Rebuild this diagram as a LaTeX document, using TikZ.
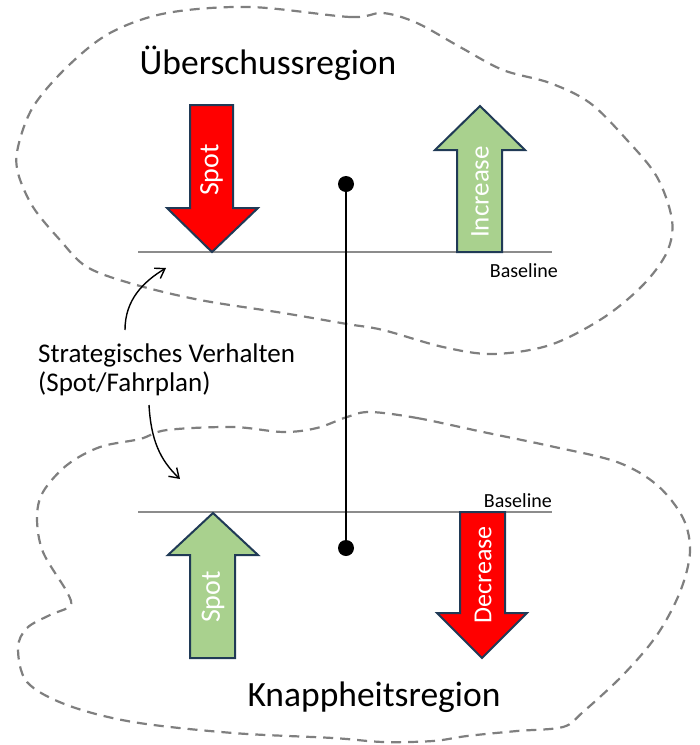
\documentclass[tikz,border=0pt]{standalone}
\usepackage{fontspec}
\setmainfont{Carlito}
\usetikzlibrary{arrows.meta}
\definecolor{blobgray}{HTML}{7F7F7F}
\definecolor{basegray}{HTML}{8C8C8C}
\definecolor{arrowedge}{HTML}{203A56}
\definecolor{upgreen}{HTML}{A9D18E}
\definecolor{downred}{HTML}{FF0000}
\tikzset{
  blob/.style={draw=blobgray, line width=2.2pt, dash pattern=on 10pt off 7pt},
  baseln/.style={draw=basegray, line width=2.5pt},
  fatarrow/.style={draw=arrowedge, line width=2pt, line join=miter},
  arrowlabel/.style={text=white, rotate=90, inner sep=0pt},
  regionlabel/.style={font=\fontsize{35.5}{40}\selectfont},
  smalllabel/.style={font=\fontsize{20}{22}\selectfont, inner sep=0pt},
  stratlabel/.style={font=\fontsize{27}{30}\selectfont, inner sep=0pt, anchor=base west},
  dot/.style={circle, fill=black, minimum size=16pt, inner sep=0pt},
  curvedarrow/.style={draw=black, line width=1.4pt, -{Straight Barb[length=9pt,width=12pt]}}
}
\begin{document}
\begin{tikzpicture}[x=1pt,y=-1pt]
\useasboundingbox (0,0) rectangle (700,745);
% dashed regions
\draw[blob] plot[smooth cycle, tension=0.55] coordinates {
  (250,7) (350,17) (383,13) (417,23) (460,47) (503,70) (550,83) (590,103)
  (627,140) (657,177) (672,220) (667,252) (643,285) (603,318) (550,345)
  (493,354) (443,347) (383,330) (347,324) (283,313) (200,300) (133,284)
  (87,267) (60,240) (33,207) (18,173) (18,147) (33,107) (67,67) (110,33) (167,13)};
\draw[blob] plot[smooth cycle, tension=0.55] coordinates {
  (370,412) (417,418) (483,432) (550,446) (617,462) (657,485) (683,518)
  (690,552) (680,592) (657,635) (623,675) (583,712) (563,727) (517,731)
  (467,736) (433,741) (383,742) (333,738) (233,733) (133,722) (67,705)
  (27,682) (18,648) (27,628) (50,615) (70,606) (67,592) (43,552) (37,518)
  (43,492) (67,465) (100,447) (140,439) (167,430) (233,427) (283,432)
  (317,428) (347,417)};
% baselines
\draw[baseln] (138,252) coordinate (b1l) -- (552,252) coordinate (b1r);
\draw[baseln] (138,512) coordinate (b2l) -- (552,512) coordinate (b2r);
% block arrows
\filldraw[fatarrow, fill=downred] (190,105) -- (233,105) -- (233,208) -- (258,208) -- (212,252) -- (167,208) -- (190,208) -- cycle;
\node[arrowlabel, font=\fontsize{28}{30}\selectfont] (spot1) at (211.5,170) {Spot};
\filldraw[fatarrow, fill=upgreen] (457,252) -- (502,252) -- (502,150) -- (525,150) -- (480,106) -- (435,150) -- (457,150) -- cycle;
\node[arrowlabel, font=\fontsize{27}{30}\selectfont] (incr) at (480,192) {Increase};
\filldraw[fatarrow, fill=upgreen] (190,658) -- (235,658) -- (235,555) -- (258,555) -- (213,513) -- (168,555) -- (190,555) -- cycle;
\node[arrowlabel, font=\fontsize{28}{30}\selectfont] (spot2) at (213,597) {Spot};
\filldraw[fatarrow, fill=downred] (460,512) -- (505,512) -- (505,613) -- (527,613) -- (482,658) -- (437,613) -- (460,613) -- cycle;
\node[arrowlabel, font=\fontsize{26}{28}\selectfont] (decr) at (483,575) {Decrease};
% vertical connector
\node[dot] (d1) at (346,184) {};
\node[dot] (d2) at (346,548) {};
\draw[line width=2pt] (d1.center) -- (d2.center);
% labels
\node[regionlabel] (ueber) at (268,63) {Überschussregion};
\node[regionlabel] (knapp) at (374,697) {Knappheitsregion};
\node[smalllabel, anchor=east] (base1) at (558,271) {Baseline};
\node[smalllabel, anchor=east] (base2) at (552,501) {Baseline};
\node[stratlabel] (strat1) at (38,362) {Strategisches Verhalten};
\node[stratlabel] (strat2) at (38,391) {(Spot/Fahrplan)};
\coordinate (s1) at (125,330);
\coordinate (s2) at (149,405);
\coordinate (t1) at (166,268);
\coordinate (t2) at (180,479);
\draw[curvedarrow] (s1) .. controls (125,300) and (143,282) .. (t1);
\draw[curvedarrow] (s2) .. controls (151,440) and (160,460) .. (t2);
\end{tikzpicture}
\end{document}
